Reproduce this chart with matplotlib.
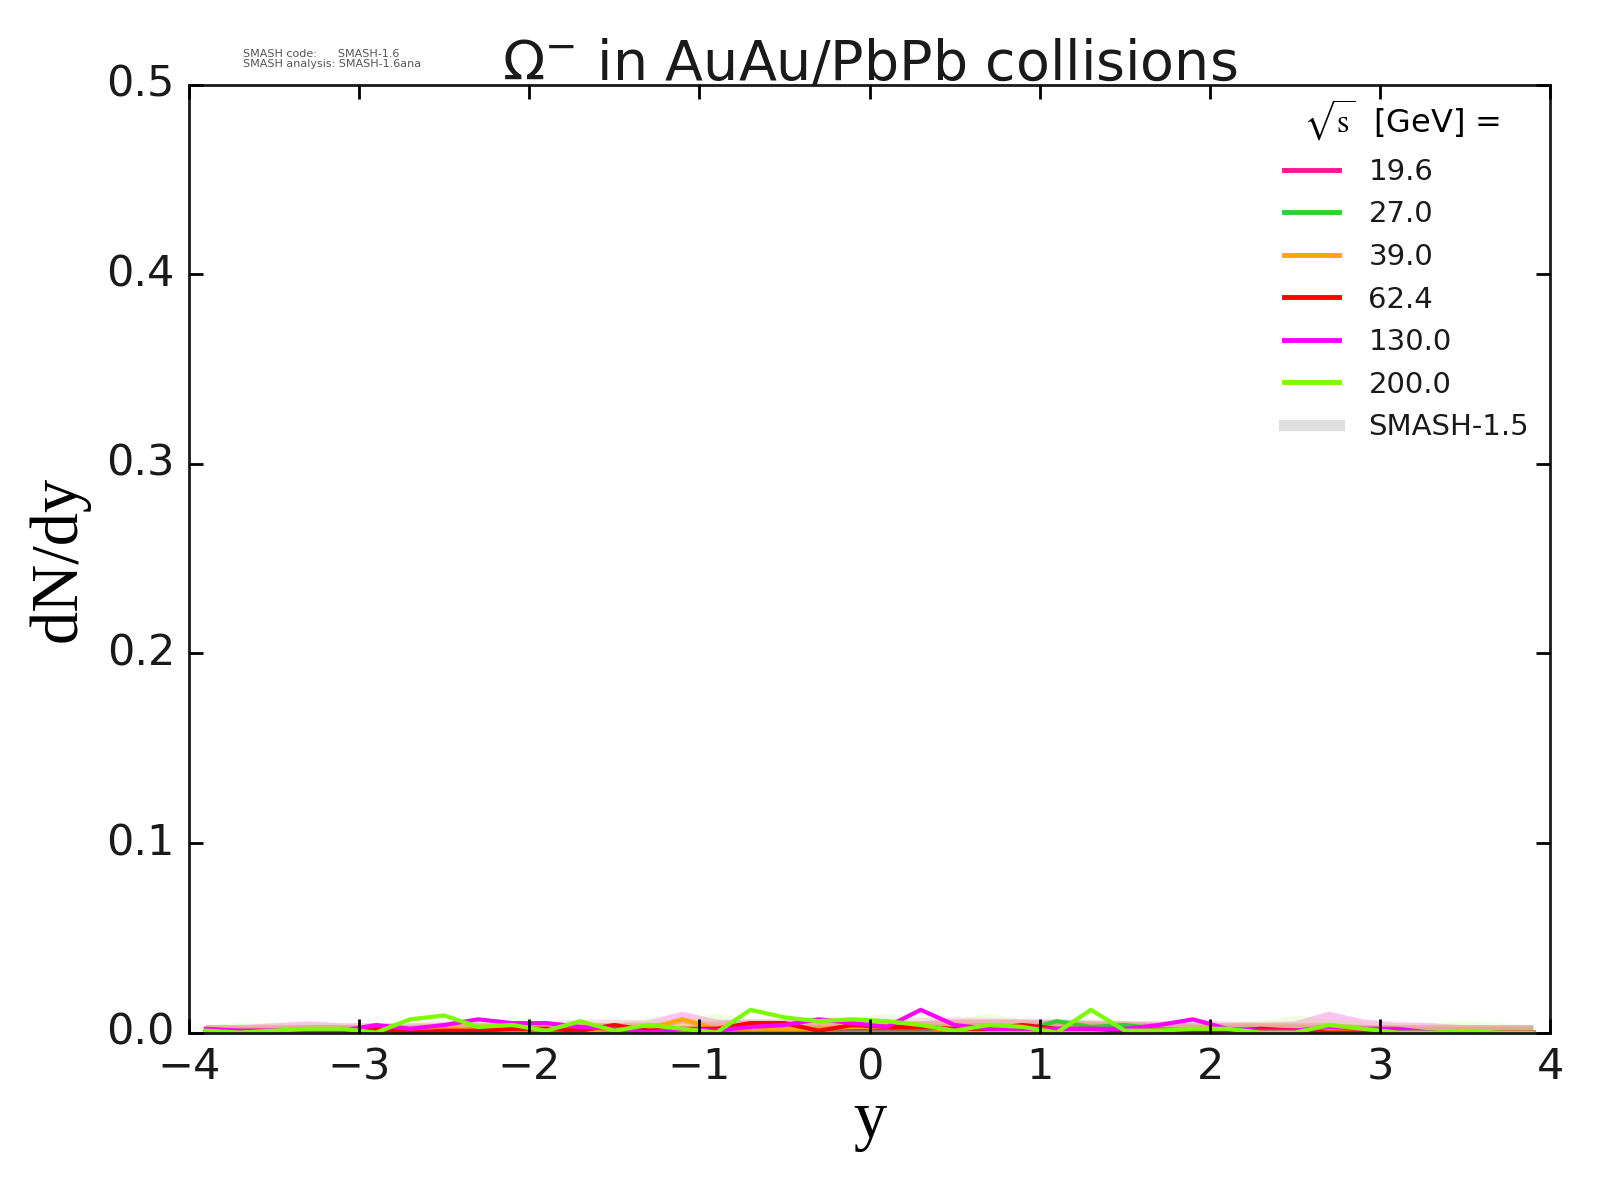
import numpy as np
import matplotlib
matplotlib.use("Agg")
import matplotlib.pyplot as plt

# rapidity bin centres
y_bins = np.round(np.arange(-3.9, 4.0, 0.2), 2)

energies = ["19.6", "27.0", "39.0", "62.4", "130.0", "200.0"]
colors = ["deeppink", "limegreen", "orange", "red", "magenta", "lawngreen"]

# SMASH-1.6 dN/dy
dndy_196 = [0.001, 0.001, 0.001, 0.001, 0.001, 0.001, 0.001, 0.002, 0.001, 0.001,
            0.002, 0.001, 0.002, 0.001, 0.001, 0.001, 0.002, 0.001, 0.002, 0.001,
            0.002, 0.001, 0.001, 0.001, 0.002, 0.001, 0.001, 0.001, 0.001, 0.001,
            0.001, 0.001, 0.001, 0.001, 0.001, 0.0, 0.0, 0.0, 0.0, 0.0]
dndy_270 = [0.0, 0.0, 0.0, 0.0, 0.0, 0.0, 0.0, 0.0, 0.0, 0.0,
            0.0, 0.0, 0.0, 0.0, 0.0, 0.0, 0.0, 0.0, 0.0, 0.0,
            0.0, 0.0, 0.0, 0.0, 0.001, 0.006, 0.003, 0.004, 0.002, 0.001,
            0.001, 0.0, 0.0, 0.0, 0.0, 0.0, 0.0, 0.0, 0.0, 0.0]
dndy_390 = [0.0, 0.0, 0.0, 0.0, 0.0, 0.001, 0.001, 0.002, 0.002, 0.002,
            0.002, 0.001, 0.002, 0.002, 0.007, 0.002, 0.002, 0.002, 0.002, 0.003,
            0.003, 0.003, 0.001, 0.001, 0.001, 0.001, 0.001, 0.001, 0.001, 0.001,
            0.001, 0.001, 0.0, 0.002, 0.0, 0.0, 0.0, 0.0, 0.0, 0.0]
dndy_624 = [0.0, 0.0, 0.0, 0.0, 0.0, 0.002, 0.0, 0.001, 0.001, 0.002,
            0.002, 0.001, 0.004, 0.001, 0.002, 0.002, 0.005, 0.005, 0.001, 0.004,
            0.003, 0.003, 0.002, 0.002, 0.004, 0.002, 0.002, 0.001, 0.001, 0.001,
            0.001, 0.002, 0.001, 0.0, 0.0, 0.0, 0.0, 0.0, 0.0, 0.0]
dndy_1300 = [0.002, 0.001, 0.001, 0.001, 0.001, 0.004, 0.002, 0.004, 0.007, 0.005,
             0.005, 0.003, 0.002, 0.0, 0.002, 0.001, 0.003, 0.004, 0.007, 0.005,
             0.003, 0.012, 0.004, 0.002, 0.002, 0.002, 0.002, 0.002, 0.004, 0.007,
             0.002, 0.001, 0.001, 0.003, 0.002, 0.002, 0.0, 0.0, 0.0, 0.0]
dndy_2000 = [0.001, 0.0, 0.001, 0.002, 0.002, 0.0, 0.007, 0.009, 0.003, 0.004,
             0.001, 0.006, 0.001, 0.004, 0.002, 0.0, 0.012, 0.008, 0.006, 0.007,
             0.006, 0.004, 0.001, 0.004, 0.003, 0.0, 0.012, 0.001, 0.001, 0.002,
             0.002, 0.0, 0.0, 0.004, 0.002, 0.0, 0.0, 0.001, 0.0, 0.0]

# SMASH-1.5 reference curves (faint thick lines)
old_196 = [0.001, 0.001, 0.002, 0.003, 0.002, 0.002, 0.002, 0.002, 0.002, 0.002,
           0.002, 0.002, 0.002, 0.004, 0.008, 0.004, 0.003, 0.003, 0.004, 0.004,
           0.003, 0.003, 0.004, 0.004, 0.004, 0.004, 0.003, 0.003, 0.003, 0.003,
           0.002, 0.003, 0.003, 0.008, 0.004, 0.002, 0.002, 0.001, 0.001, 0.001]
old_270 = [0.0, 0.0, 0.0, 0.001, 0.001, 0.001, 0.001, 0.001, 0.001, 0.001,
           0.001, 0.001, 0.001, 0.001, 0.001, 0.001, 0.001, 0.001, 0.001, 0.001,
           0.001, 0.001, 0.002, 0.002, 0.002, 0.004, 0.003, 0.002, 0.002, 0.001,
           0.001, 0.001, 0.001, 0.001, 0.001, 0.0, 0.0, 0.0, 0.0, 0.0]
old_390 = [0.001, 0.001, 0.001, 0.001, 0.001, 0.001, 0.001, 0.002, 0.002, 0.002,
           0.002, 0.002, 0.002, 0.002, 0.003, 0.002, 0.002, 0.003, 0.003, 0.003,
           0.003, 0.003, 0.003, 0.002, 0.002, 0.002, 0.002, 0.002, 0.002, 0.002,
           0.002, 0.002, 0.002, 0.002, 0.001, 0.001, 0.001, 0.001, 0.001, 0.001]
old_624 = [0.001, 0.001, 0.001, 0.001, 0.001, 0.001, 0.001, 0.002, 0.002, 0.002,
           0.002, 0.002, 0.002, 0.002, 0.003, 0.003, 0.004, 0.004, 0.003, 0.004,
           0.004, 0.003, 0.004, 0.004, 0.004, 0.003, 0.003, 0.003, 0.002, 0.002,
           0.002, 0.002, 0.002, 0.002, 0.001, 0.001, 0.001, 0.001, 0.001, 0.001]
old_1300 = [0.001, 0.001, 0.002, 0.003, 0.002, 0.002, 0.002, 0.003, 0.003, 0.003,
            0.003, 0.004, 0.004, 0.003, 0.008, 0.004, 0.004, 0.004, 0.005, 0.005,
            0.004, 0.005, 0.005, 0.005, 0.004, 0.004, 0.004, 0.003, 0.003, 0.004,
            0.003, 0.002, 0.003, 0.008, 0.004, 0.003, 0.002, 0.001, 0.001, 0.001]
old_2000 = [0.001, 0.002, 0.002, 0.002, 0.002, 0.002, 0.003, 0.003, 0.003, 0.003,
            0.003, 0.003, 0.004, 0.004, 0.004, 0.007, 0.004, 0.004, 0.004, 0.005,
            0.007, 0.005, 0.004, 0.007, 0.004, 0.004, 0.004, 0.003, 0.003, 0.003,
            0.003, 0.003, 0.006, 0.004, 0.003, 0.002, 0.002, 0.003, 0.002, 0.001]

new_sets = [dndy_196, dndy_270, dndy_390, dndy_624, dndy_1300, dndy_2000]
old_sets = [old_196, old_270, old_390, old_624, old_1300, old_2000]

plt.style.use("classic")
plt.rcParams["font.family"] = "DejaVu Sans"
plt.rcParams["mathtext.fontset"] = "dejavusans"

fig = plt.figure(figsize=(16, 12), dpi=100, facecolor="white")
ax = fig.add_axes([0.118, 0.1395, 0.851, 0.79])

for old, col in zip(old_sets, colors):
    ax.plot(y_bins, old, color=col, lw=8, alpha=0.13, solid_capstyle="butt")

for vals, col, lab in zip(new_sets, colors, energies):
    ax.plot(y_bins, vals, color=col, lw=3, label=lab)

ax.plot([], [], color="lightgray", lw=8, alpha=0.7, label="SMASH-1.5")

ax.set_xlim(-4, 4)
ax.set_ylim(0, 0.5)
ax.set_xticks(np.arange(-4, 5, 1))
ax.set_yticks(np.arange(0, 0.51, 0.1))
ax.set_yticklabels(["0.0", "0.1", "0.2", "0.3", "0.4", "0.5"])
ax.set_xticklabels(["\u22124", "\u22123", "\u22122", "\u22121", "0", "1", "2", "3", "4"])
ax.tick_params(axis="both", which="major", labelsize=31, direction="in",
               length=10, width=2, top=True, right=True, pad=10,
               labelcolor="#1a1a1a")
for sp in ax.spines.values():
    sp.set_linewidth(2)
    sp.set_color("#1a1a1a")

ax.set_xlabel("y", family="Liberation Serif", fontsize=48, labelpad=2)
ax.set_ylabel("dN/dy", family="Liberation Serif", fontsize=48, labelpad=12)
ax.set_title(r"$\Omega^{-}$ in AuAu/PbPb collisions", fontsize=40, pad=4,
             color="#1a1a1a")

leg = ax.legend(loc="upper right", bbox_to_anchor=(0.994, 1.0), frameon=False,
                fontsize=21, title=r"$\sqrt{\mathrm{s}}$  [GeV] =",
                handlelength=2.5, handletextpad=0.7, labelspacing=0.5,
                borderaxespad=0.05)
leg_title = leg.get_title()
leg_title.set_fontsize(23)
leg_title.set_math_fontfamily("stix")
for t in leg.get_texts():
    t.set_color("#1a1a1a")
for h in leg.get_lines()[:-1]:
    h.set_linewidth(3.5)

fig.text(0.152, 0.959, "SMASH code:      SMASH-1.6\nSMASH analysis: SMASH-1.6ana",
         fontsize=8, color="#555555", va="top", linespacing=1.0)

fig.savefig("out.png", dpi=100)
